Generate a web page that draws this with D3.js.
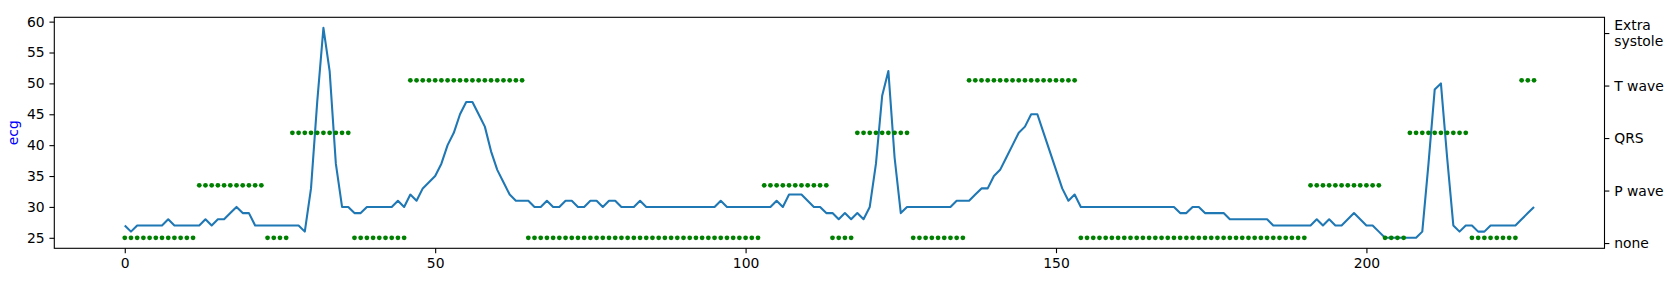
<!DOCTYPE html>
<html>
<head>
<meta charset="utf-8">
<script src="https://cdn.jsdelivr.net/npm/d3@7"></script>
<style>
  body { margin: 0; background: #fff; }
  svg { display: block; font-family: "DejaVu Sans", sans-serif; }
  .axis text { font-family: "DejaVu Sans", sans-serif; font-size: 13.9px; fill: #000; }
  .axis path, .axis line { stroke: #000; stroke-width: 1.1; }
</style>
</head>
<body>
<svg id="chart" width="1677" height="281"></svg>
<script>
// ecg samples, one per index 0..227
var ecg = [
  27, 26, 27, 27, 27, 27, 27, 28, 27, 27,
  27, 27, 27, 28, 27, 28, 28, 29, 30, 29,
  29, 27, 27, 27, 27, 27, 27, 27, 27, 26,
  33, 47, 59, 52, 37, 30, 30, 29, 29, 30,
  30, 30, 30, 30, 31, 30, 32, 31, 33, 34,
  35, 37, 40, 42, 45, 47, 47, 45, 43, 39,
  36, 34, 32, 31, 31, 31, 30, 30, 31, 30,
  30, 31, 31, 30, 30, 31, 31, 30, 31, 31,
  30, 30, 30, 31, 30, 30, 30, 30, 30, 30,
  30, 30, 30, 30, 30, 30, 31, 30, 30, 30,
  30, 30, 30, 30, 30, 31, 30, 32, 32, 32,
  31, 30, 30, 29, 29, 28, 29, 28, 29, 28,
  30, 37, 48, 52, 38, 29, 30, 30, 30, 30,
  30, 30, 30, 30, 31, 31, 31, 32, 33, 33,
  35, 36, 38, 40, 42, 43, 45, 45, 42, 39,
  36, 33, 31, 32, 30, 30, 30, 30, 30, 30,
  30, 30, 30, 30, 30, 30, 30, 30, 30, 30,
  29, 29, 30, 30, 29, 29, 29, 29, 28, 28,
  28, 28, 28, 28, 28, 27, 27, 27, 27, 27,
  27, 27, 28, 27, 28, 27, 27, 28, 29, 28,
  27, 27, 26, 25, 25, 25, 25, 25, 25, 26,
  37, 49, 50, 38, 27, 26, 27, 27, 26, 26,
  27, 27, 27, 27, 27, 28, 29, 30
];

// label class per sample (index into classNames)
var labels = [
  0, 0, 0, 0, 0, 0, 0, 0, 0, 0, 0, 0,
  1, 1, 1, 1, 1, 1, 1, 1, 1, 1, 1,
  0, 0, 0, 0,
  2, 2, 2, 2, 2, 2, 2, 2, 2, 2,
  0, 0, 0, 0, 0, 0, 0, 0, 0,
  3, 3, 3, 3, 3, 3, 3, 3, 3, 3, 3, 3, 3, 3, 3, 3, 3, 3, 3,
  0, 0, 0, 0, 0, 0, 0, 0, 0, 0, 0, 0, 0, 0, 0, 0, 0, 0, 0,
  0, 0, 0, 0, 0, 0, 0, 0, 0, 0, 0, 0, 0, 0, 0, 0, 0, 0, 0,
  1, 1, 1, 1, 1, 1, 1, 1, 1, 1, 1,
  0, 0, 0, 0,
  2, 2, 2, 2, 2, 2, 2, 2, 2,
  0, 0, 0, 0, 0, 0, 0, 0, 0,
  3, 3, 3, 3, 3, 3, 3, 3, 3, 3, 3, 3, 3, 3, 3, 3, 3, 3,
  0, 0, 0, 0, 0, 0, 0, 0, 0, 0, 0, 0, 0, 0, 0, 0, 0, 0, 0,
  0, 0, 0, 0, 0, 0, 0, 0, 0, 0, 0, 0, 0, 0, 0, 0, 0, 0,
  1, 1, 1, 1, 1, 1, 1, 1, 1, 1, 1, 1,
  0, 0, 0, 0,
  2, 2, 2, 2, 2, 2, 2, 2, 2, 2,
  0, 0, 0, 0, 0, 0, 0, 0,
  3, 3, 3
];

var classNames = ["none", "P wave", "QRS", "T wave", "Extra systole"];
var xTicks = [0, 50, 100, 150, 200];
var yTicks = [25, 30, 35, 40, 45, 50, 55, 60];

// plot box (matches the matplotlib axes)
// note: don't call these top/left etc, window.top is read only
var boxL = 54.3, boxR = 1604.5, boxT = 17.3, boxB = 248.3;
var tickLen = 4.86, tickPad = 4.86;

var svg = d3.select("#chart");

// 5% margins like matplotlib autoscale
var n = ecg.length - 1;
var x = d3.scaleLinear()
  .domain([-0.05 * n, n * 1.05])
  .range([boxL, boxR]);

var yMin = d3.min(ecg), yMax = d3.max(ecg);
var yr = yMax - yMin;
var y = d3.scaleLinear()
  .domain([yMin - 0.05 * yr, yMax + 0.05 * yr])
  .range([boxB, boxT]);

// second axis for the label classes
var y2 = d3.scaleLinear()
  .domain([-0.1, 4.3])
  .range([boxB, boxT]);

// labels are drawn on the ecg scale, spread evenly between min and max
var step = yr / 4;

// the line
svg.append("path")
  .datum(ecg)
  .attr("fill", "none")
  .attr("stroke", "#1f77b4")
  .attr("stroke-width", 2.08)
  .attr("stroke-linejoin", "round")
  .attr("d", d3.line()
    .x(function(d, i) { return x(i); })
    .y(function(d) { return y(d); }));

// label dots
svg.selectAll("circle.lab")
  .data(labels)
  .enter()
  .append("circle")
  .attr("class", "lab")
  .attr("cx", function(d, i) { return x(i); })
  .attr("cy", function(d) { return y(yMin + d * step); })
  .attr("r", 2.4)
  .attr("fill", "green");

// frame
svg.append("rect")
  .attr("x", boxL).attr("y", boxT)
  .attr("width", boxR - boxL).attr("height", boxB - boxT)
  .attr("fill", "none")
  .attr("stroke", "#000")
  .attr("stroke-width", 1.1);

// axes
var gx = svg.append("g")
  .attr("class", "axis")
  .attr("transform", "translate(0," + boxB + ")")
  .call(d3.axisBottom(x).tickValues(xTicks).tickSize(tickLen).tickPadding(tickPad)
    .tickFormat(d3.format("d")));

var gy = svg.append("g")
  .attr("class", "axis")
  .attr("transform", "translate(" + boxL + ",0)")
  .call(d3.axisLeft(y).tickValues(yTicks).tickSize(tickLen).tickPadding(tickPad)
    .tickFormat(d3.format("d")));

var gy2 = svg.append("g")
  .attr("class", "axis")
  .attr("transform", "translate(" + boxR + ",0)")
  .call(d3.axisRight(y2).tickValues(d3.range(classNames.length)).tickSize(tickLen).tickPadding(tickPad)
    .tickFormat(function(i) { return classNames[i]; }));

[gx, gy, gy2].forEach(function(g) { g.select(".domain").remove(); });

// two-line label for "Extra systole"
gy2.selectAll(".tick text").each(function(i) {
  var words = classNames[i].split(" ");
  if (i === 4 && words.length > 1) {
    var t = d3.select(this).text(null);
    words.forEach(function(w, k) {
      t.append("tspan")
        .attr("x", tickLen + tickPad)
        .attr("dy", k === 0 ? "-0.28em" : "1.2em")
        .text(w);
    });
  }
});

// y label
svg.append("text")
  .attr("transform", "translate(13.5," + ((boxT + boxB) / 2) + ") rotate(-90)")
  .attr("text-anchor", "middle")
  .attr("dy", "0.35em")
  .attr("fill", "blue")
  .style("font-size", "13.9px")
  .text("ecg");
</script>
</body>
</html>
